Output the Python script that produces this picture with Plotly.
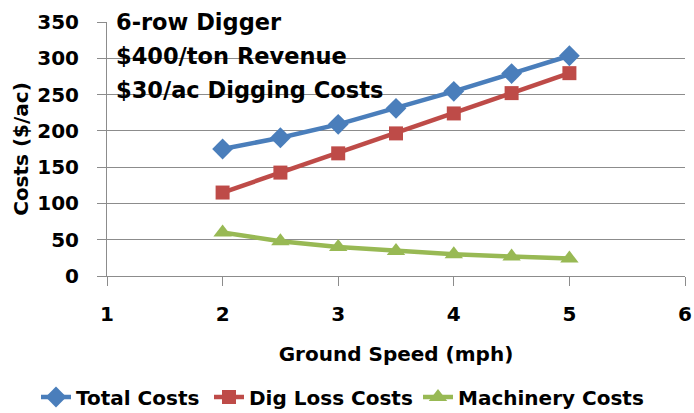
import plotly.graph_objects as go

# Ground speed (mph) and per-acre costs for a 6-row digger
speed = [2, 2.5, 3, 3.5, 4, 4.5, 5]
total_costs = [175, 190.5, 209, 231, 254.5, 279, 303.5]
dig_loss_costs = [115, 142.5, 169, 196.5, 224, 252, 279.5]
machinery_costs = [60, 48, 40, 34.3, 30, 26.7, 24]

x_ticks = [1, 2, 3, 4, 5, 6]
y_ticks = [0, 50, 100, 150, 200, 250, 300, 350]

notes = ["6-row Digger", "$400/ton Revenue", "$30/ac Digging Costs"]

FONT = "DejaVu Sans"
GRID = "#8c8c8c"
W, H = 694, 413

# name, values, colour, marker symbol, marker size, legend id, legend left (px)
series = [
    ("Total Costs", total_costs, "#4A7EBB", "diamond", 16, "legend", 36),
    ("Dig Loss Costs", dig_loss_costs, "#BE4B48", "square", 14, "legend2", 209),
    ("Machinery Costs", machinery_costs, "#98B954", "triangle-up", 16, "legend3", 418),
]

fig = go.Figure()
legends = {}
for name, vals, color, symbol, size, leg, left in series:
    fig.add_trace(go.Scatter(
        x=speed, y=vals, name=name, mode="lines+markers", legend=leg,
        line=dict(color=color, width=4.5),
        marker=dict(symbol=symbol, size=size, color=color,
                    line=dict(width=0)),
    ))
    legends[leg] = dict(
        orientation="h", xref="container", yref="container",
        x=left / W, xanchor="left", y=1 - 397 / H, yanchor="middle",
        font=dict(family=FONT, size=20, weight="bold", color="#000000"),
        itemwidth=30, bgcolor="rgba(0,0,0,0)", borderwidth=0,
    )

for i, text in enumerate(notes):
    fig.add_annotation(
        text=text, xref="paper", yref="paper", x=0.012, xanchor="left",
        y=1.0 - i * 0.133, yanchor="middle", showarrow=False,
        font=dict(family=FONT, size=22.5, color="#000000", weight="bold"),
    )

fig.update_layout(
    width=W, height=H,
    margin=dict(l=107, r=9, t=22, b=137, autoexpand=False),
    paper_bgcolor="white", plot_bgcolor="white",
    font=dict(family=FONT, color="#000000", size=20, weight="bold"),
    showlegend=True,
    **legends,
)

fig.update_xaxes(
    range=[1, 6], tickvals=x_ticks, showgrid=False,
    showline=True, linecolor=GRID, linewidth=1,
    ticks="outside", ticklen=9, tickcolor=GRID,
    ticklabelstandoff=11,
    tickfont=dict(family=FONT, size=20, weight="bold"),
    title=dict(text="Ground Speed (mph)", standoff=21,
               font=dict(family=FONT, size=20, weight="bold")),
    zeroline=False, automargin=False,
)
fig.update_yaxes(
    range=[0, 350], tickvals=y_ticks, showgrid=True,
    gridcolor=GRID, gridwidth=1,
    showline=True, linecolor=GRID, linewidth=1,
    ticks="outside", ticklen=9, tickcolor=GRID,
    ticklabelstandoff=14,
    tickfont=dict(family=FONT, size=20, weight="bold"),
    title=dict(text="Costs ($/ac)", standoff=3,
               font=dict(family=FONT, size=20, weight="bold")),
    zeroline=False, automargin=False,
)

fig.write_html("out.html")
